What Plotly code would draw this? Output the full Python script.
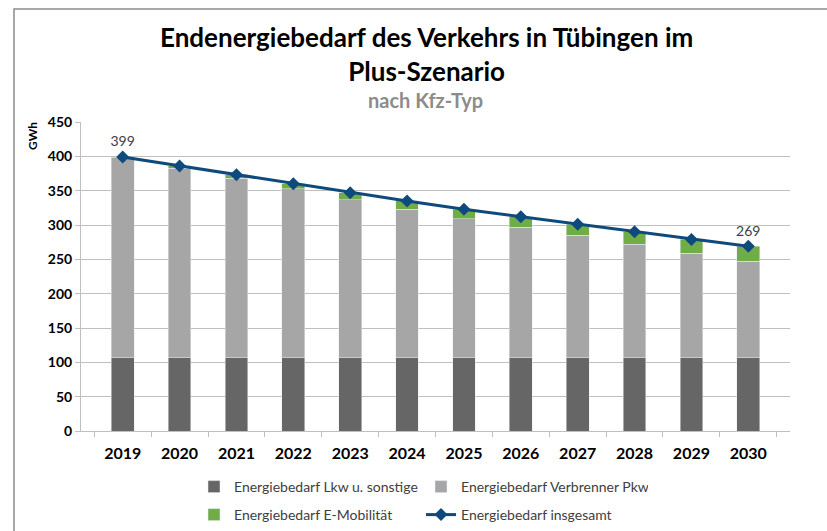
import plotly.graph_objects as go

years = ["2019", "2020", "2021", "2022", "2023", "2024", "2025", "2026", "2027", "2028", "2029", "2030"]
total = [399, 386, 373, 360, 347, 335, 323, 312, 301, 290, 279, 269]
lkw = [107, 107, 107, 107, 107, 107, 107, 107, 107, 107, 107, 107]
emob = [1, 3, 5, 7, 10, 12, 14, 15, 16, 18, 20, 22]
verbrenner = [t - l - e for t, l, e in zip(total, lkw, emob)]
labels = ["399"] + [""] * 10 + ["269"]

FONT = "Lato"
TXT = "#404040"

fig = go.Figure()
fig.add_trace(go.Bar(x=years, y=lkw, name="Energiebedarf Lkw u. sonstige",
                     marker_color="#666666", legend="legend"))
fig.add_trace(go.Bar(x=years, y=verbrenner, name="Energiebedarf Verbrenner Pkw",
                     marker_color="#a6a6a6", legend="legend"))
fig.add_trace(go.Bar(x=years, y=emob, name="Energiebedarf E-Mobilität",
                     marker_color="#70ad47", legend="legend2"))
fig.add_trace(go.Scatter(x=years, y=total, name="Energiebedarf insgesamt",
                         mode="lines+markers+text", text=labels, textposition="top center",
                         textfont=dict(size=14, color=TXT, family=FONT),
                         line=dict(color="#0f4a7c", width=3),
                         marker=dict(symbol="diamond", size=10, color="#0f4a7c"),
                         legend="legend2", cliponaxis=False))

fig.update_layout(
    barmode="stack", bargap=0.6,
    width=827, height=531,
    margin=dict(l=81, r=37, t=122, b=100),
    paper_bgcolor="white", plot_bgcolor="white",
    font=dict(family=FONT, color=TXT),
    showlegend=True,
    legend=dict(orientation="h", x=0.1594, y=1 - 487 / 531, xanchor="left", yanchor="middle",
                yref="container",
                font=dict(size=14, color=TXT, family=FONT), entrywidth=182,
                traceorder="normal", bgcolor="rgba(0,0,0,0)"),
    legend2=dict(orientation="h", x=0.1594, y=1 - 515 / 531, xanchor="left", yanchor="middle",
                 yref="container",
                 font=dict(size=14, color=TXT, family=FONT), entrywidth=182,
                 traceorder="normal", bgcolor="rgba(0,0,0,0)"),
    xaxis=dict(type="category", showline=True, linecolor="#bfbfbf", linewidth=1,
               ticks="outside", tickson="boundaries", ticklen=5, tickcolor="#bfbfbf",
               ticklabelstandoff=8, automargin=False,
               tickfont=dict(size=16, color="black", family=FONT, weight="bold"),
               showgrid=False),
    yaxis=dict(range=[0, 450], dtick=50, showline=True, linecolor="#bfbfbf",
               ticks="outside", ticklen=5, tickcolor="#bfbfbf", automargin=False,
               gridcolor="#bfbfbf", gridwidth=1, zeroline=False,
               tickfont=dict(size=14, color="black", family=FONT, weight="bold")),
    annotations=[
        dict(text="Endenergiebedarf des Verkehrs in Tübingen im<br>Plus-Szenario",
             xref="paper", yref="paper", x=(426 - 81) / 709, y=(431 - 54) / 309,
             xanchor="center", yanchor="middle",
             showarrow=False, font=dict(size=26, color="black", family=FONT, weight="bold")),
        dict(text="nach Kfz-Typ", xref="paper", yref="paper", x=(425 - 81) / 709, y=(431 - 100) / 309,
             xanchor="center", yanchor="middle", showarrow=False,
             font=dict(size=20, color="#8c8c8c", family=FONT, weight="bold")),
        dict(text="GWh", xref="paper", yref="paper", x=(32 - 81) / 709, y=(431 - 136) / 309,
             xanchor="center", yanchor="middle", textangle=-90, showarrow=False,
             font=dict(size=12, color="black", family=FONT, weight="bold")),
    ],
    shapes=[dict(type="rect", xref="paper", yref="paper",
                 x0=(14 - 81) / 709, x1=1.2, y0=-0.5, y1=(431 - 9) / 309,
                 line=dict(color="#8c8c8c", width=1.5), fillcolor="rgba(0,0,0,0)", layer="below")],
)

fig.write_html("out.html", config={"displayModeBar": False},
               post_script="document.body.style.margin='0';document.body.style.padding='0';")
